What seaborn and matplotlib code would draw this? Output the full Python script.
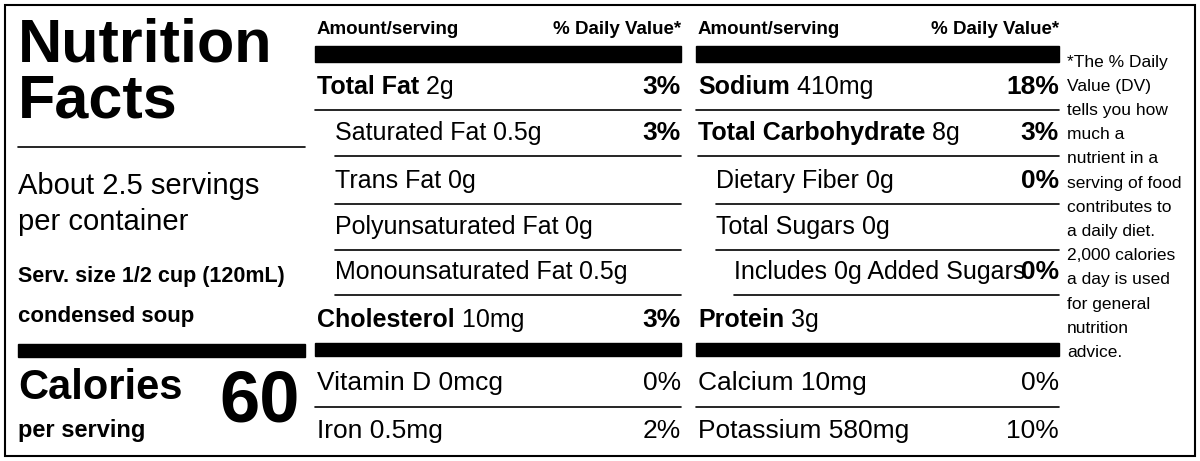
import matplotlib
matplotlib.use("Agg")
import matplotlib.pyplot as plt
import seaborn as sns

sns.set_style("white")
plt.rcParams['font.family'] = ['Liberation Sans Narrow', 'Liberation Sans', 'DejaVu Sans']
plt.rcParams['text.color'] = 'black'

# label content
left_names = ["Total Fat", "Saturated Fat", "Trans Fat", "Polyunsaturated Fat",
              "Monounsaturated Fat", "Cholesterol"]
left_amounts = ["2g", "0.5g", "0g", "0g", "0.5g", "10mg"]
left_dv = ["3%", "3%", "", "", "", "3%"]
left_bold = [True, False, False, False, False, True]
left_indent = [0, 1, 1, 1, 1, 0]

right_names = ["Sodium", "Total Carbohydrate", "Dietary Fiber", "Total Sugars",
               "Includes 0g Added Sugars", "Protein"]
right_amounts = ["410mg", "8g", "0g", "0g", "", "3g"]
right_dv = ["18%", "3%", "0%", "", "0%", ""]
right_bold = [True, True, False, False, False, True]
right_indent = [0, 0, 1, 1, 2, 0]

vit_left = ["Vitamin D 0mcg", "Iron 0.5mg"]
vit_left_dv = ["0%", "2%"]
vit_right = ["Calcium 10mg", "Potassium 580mg"]
vit_right_dv = ["0%", "10%"]

footnote = ["*The % Daily", "Value (DV)", "tells you how", "much a", "nutrient in a",
            "serving of food", "contributes to", "a daily diet.", "2,000 calories",
            "a day is used", "for general", "nutrition", "advice."]

fig = plt.figure(figsize=(12, 4.61), dpi=100)
ax = fig.add_axes([0, 0, 1, 1])
ax.set_xlim(0, 1200)
ax.set_ylim(461, 0)
ax.axis("off")

ax.add_patch(plt.Rectangle((5, 5), 1190, 451, fill=False, lw=1.5, color="black"))

# left panel
ax.text(18, 46, "Nutrition", fontsize=44, weight="bold", va="center")
ax.text(18, 102, "Facts", fontsize=44, weight="bold", va="center")
ax.plot([18, 305], [147, 147], color="black", lw=1.2)
ax.text(18, 186, "About 2.5 servings", fontsize=21, va="center")
ax.text(18, 222, "per container", fontsize=21, va="center")
ax.text(18, 276, "Serv. size 1/2 cup (120mL)", fontsize=15.5, weight="bold", va="center")
ax.text(18, 316, "condensed soup", fontsize=16, weight="bold", va="center")
ax.add_patch(plt.Rectangle((18, 344), 287, 13, color="black"))
ax.text(18, 388, "Calories", fontsize=30, weight="bold", va="center")
ax.text(18, 430, "per serving", fontsize=17, weight="bold", va="center")
ax.text(300, 402, "60", fontsize=52, weight="bold", va="center", ha="right")


def column(x0, x1, names, amounts, dvs, bold, indent, vits, vit_dvs):
    ax.text(x0 + 2, 30, "Amount/serving", fontsize=13.5, weight="bold", va="center")
    ax.text(x1, 30, "% Daily Value*", fontsize=13.5, weight="bold", va="center", ha="right")
    ax.add_patch(plt.Rectangle((x0, 46), x1 - x0, 16, color="black"))
    row_y = [87, 133, 181, 227, 272, 320]
    for i, y in enumerate(row_y):
        xs = x0 + 2 + indent[i] * 18
        w = "bold" if bold[i] else "normal"
        t = ax.text(xs, y, names[i], fontsize=18, weight=w, va="center")
        if amounts[i]:
            ax.annotate(" " + amounts[i], xycoords=t, xy=(1, 0.5), va="center",
                        fontsize=18)
        if dvs[i]:
            ax.text(x1, y, dvs[i], fontsize=19, weight="bold", va="center", ha="right")
        if i < len(row_y) - 1:
            ax.plot([xs if i > 0 else x0, x1], [y + 23, y + 23], color="black", lw=1.2)
    ax.add_patch(plt.Rectangle((x0, 343), x1 - x0, 13, color="black"))
    for i, y in enumerate([383, 431]):
        ax.text(x0 + 2, y, vits[i], fontsize=19, va="center")
        ax.text(x1, y, vit_dvs[i], fontsize=19, va="center", ha="right")
    ax.plot([x0, x1], [407, 407], color="black", lw=1.2)


column(315, 681, left_names, left_amounts, left_dv, left_bold, left_indent,
       vit_left, vit_left_dv)
column(696, 1059, right_names, right_amounts, right_dv, right_bold, right_indent,
       vit_right, vit_right_dv)

for i, line in enumerate(footnote):
    ax.text(1067, 62 + i * 24.2, line, fontsize=12.5, va="center")

fig.savefig("out.png", dpi=100)
